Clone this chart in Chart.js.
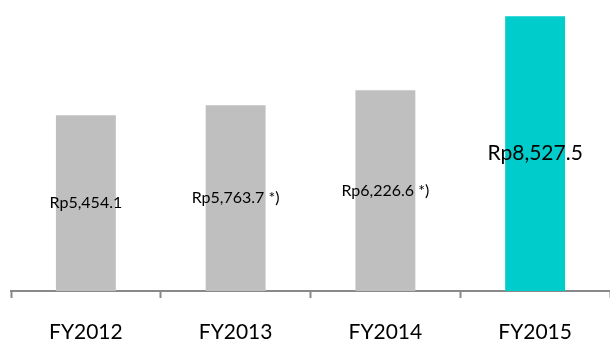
<!DOCTYPE html>
<html>
<head>
<meta charset="utf-8">
<script src="https://cdn.jsdelivr.net/npm/chart.js@4"></script>
<style>
  html, body { margin: 0; padding: 0; background: #ffffff; }
  #wrap { width: 610px; height: 341px; position: relative; }
</style>
</head>
<body>
<div id="wrap"><canvas id="revenueChart"></canvas></div>
<script>
// Revenue per fiscal year (Rp billion)
const years = ['FY2012', 'FY2013', 'FY2014', 'FY2015'];
const revenue = [5454.1, 5763.7, 6226.6, 8527.5];
const notes = ['', ' *)', ' *)', ''];
const barColors = ['#BFBFBF', '#BFBFBF', '#BFBFBF', '#00CCCC'];

// Write the value in the middle of each bar; the latest year gets a bigger font.
const valueLabels = {
    id: 'valueLabels',
    afterDatasetsDraw(chart) {
        const ctx = chart.ctx;
        const bars = chart.getDatasetMeta(0).data;
        ctx.save();
        ctx.fillStyle = '#000000';
        ctx.textAlign = 'center';
        ctx.textBaseline = 'middle';
        for (let i = 0; i < bars.length; i++) {
            const bar = bars[i];
            const last = i === bars.length - 1;
            ctx.font = (last ? '21px' : '16px') + ' Lato, "Open Sans", sans-serif';
            const text = 'Rp' + revenue[i].toLocaleString('en-US', { minimumFractionDigits: 1, maximumFractionDigits: 1 }) + notes[i];
            ctx.fillText(text, bar.x, (bar.y + bar.base) / 2);
        }
        ctx.restore();
    }
};

const ctx = document.getElementById('revenueChart').getContext('2d');
const revenueChart = new Chart(ctx, {
    type: 'bar',
    data: {
        labels: years,
        datasets: [{
            data: revenue,
            backgroundColor: barColors,
            borderWidth: 0,
            categoryPercentage: 1,
            barPercentage: 0.4
        }]
    },
    options: {
        responsive: true,
        maintainAspectRatio: false,
        animation: false,
        layout: { padding: { top: 1, left: 11, right: 0, bottom: 0 } },
        plugins: {
            legend: { display: false },
            tooltip: { enabled: false }
        },
        scales: {
            y: {
                display: false,
                min: 0,
                max: 9000
            },
            x: {
                afterFit(scale) { scale.height = 50; },
                border: { display: true, color: '#898989', width: 2 },
                grid: {
                    offset: true,
                    drawOnChartArea: false,
                    drawTicks: true,
                    tickLength: 7,
                    tickWidth: 2,
                    tickColor: '#898989'
                },
                ticks: {
                    color: '#000000',
                    padding: 22,
                    font: { family: 'Lato, "Open Sans", sans-serif', size: 21 }
                }
            }
        }
    },
    plugins: [valueLabels]
});
</script>
</body>
</html>
